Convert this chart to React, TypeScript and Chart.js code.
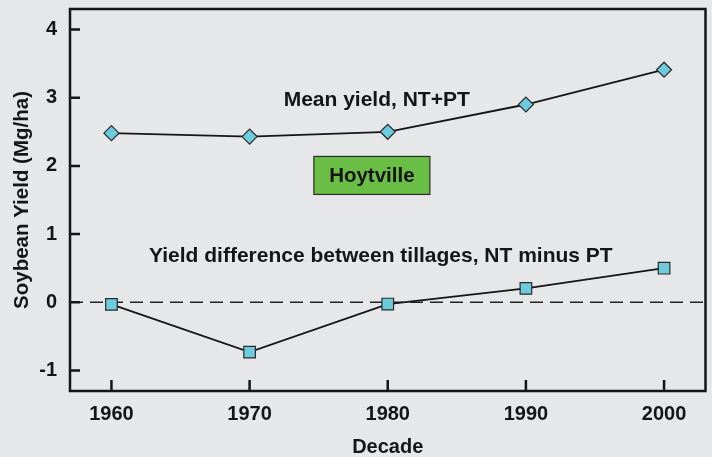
import React, { useEffect, useRef } from 'react';
import { Chart, registerables } from 'chart.js';

Chart.register(...registerables);

// ---- data ----
const decades = [1960, 1970, 1980, 1990, 2000];
const meanYield = [2.48, 2.43, 2.5, 2.9, 3.41];
const yieldDiff = [-0.03, -0.73, -0.025, 0.205, 0.5];
const yTickValues = [-1, 0, 1, 2, 3, 4];
const xRange = [1957, 2003];
const yRange = [-1.3, 4.3];

const meanLabel = { text: 'Mean yield, NT+PT', x: 1979.2, y: 2.96 };
const diffLabel = { text: 'Yield difference between tillages, NT minus PT', x: 1979.5, y: 0.68 };
const siteLabel = { text: 'Hoytville', x: 1978.85, y: 1.86 };

const BG = '#e6e7e9';
const INK = '#151515';
const FONT = "'Liberation Sans', Arial, sans-serif";
const MARKER = '#6ccbdc';

const decorPlugin = {
  id: 'decor',
  beforeDatasetsDraw(chart: any) {
    const { ctx, chartArea: a, scales } = chart;
    const y0 = scales.y.getPixelForValue(0);
    ctx.save();
    ctx.setLineDash([13, 7]);
    ctx.lineWidth = 1.5;
    ctx.strokeStyle = '#222';
    ctx.beginPath();
    ctx.moveTo(a.left, y0);
    ctx.lineTo(a.right, y0);
    ctx.stroke();
    ctx.restore();
  },
  afterDraw(chart: any) {
    const { ctx, chartArea: a, scales } = chart;
    const xs = scales.x;
    const ys = scales.y;
    ctx.save();
    // frame
    ctx.lineWidth = 2.5;
    ctx.strokeStyle = INK;
    ctx.strokeRect(a.left, a.top, a.right - a.left, a.bottom - a.top);
    // inward ticks
    ctx.lineWidth = 2.5;
    ctx.beginPath();
    for (const v of yTickValues) {
      const py = ys.getPixelForValue(v);
      ctx.moveTo(a.left, py);
      ctx.lineTo(a.left + 10, py);
    }
    for (const v of decades) {
      const px = xs.getPixelForValue(v);
      ctx.moveTo(px, a.bottom);
      ctx.lineTo(px, a.bottom - 11);
    }
    ctx.stroke();

    // text labels
    ctx.fillStyle = INK;
    ctx.font = `bold 21px ${FONT}`;
    ctx.textAlign = 'center';
    ctx.textBaseline = 'middle';
    ctx.fillText(meanLabel.text, xs.getPixelForValue(meanLabel.x), ys.getPixelForValue(meanLabel.y));
    ctx.fillText(diffLabel.text, xs.getPixelForValue(diffLabel.x), ys.getPixelForValue(diffLabel.y));

    // site box
    const cx = xs.getPixelForValue(siteLabel.x);
    const cy = ys.getPixelForValue(siteLabel.y);
    const bw = 116;
    const bh = 38;
    ctx.fillStyle = '#6abd45';
    ctx.fillRect(cx - bw / 2, cy - bh / 2, bw, bh);
    ctx.lineWidth = 1.2;
    ctx.strokeStyle = '#2a2a2a';
    ctx.strokeRect(cx - bw / 2, cy - bh / 2, bw, bh);
    ctx.fillStyle = INK;
    ctx.font = `bold 20.5px ${FONT}`;
    ctx.fillText(siteLabel.text, cx, cy + 1);
    ctx.restore();
  },
};

export default function App() {
  const ref = useRef<HTMLCanvasElement | null>(null);

  useEffect(() => {
    if (!ref.current) return;
    const tickFont = { family: FONT, size: 20, weight: 'bold' as const };
    const chart = new Chart(ref.current, {
      type: 'line',
      data: {
        datasets: [
          {
            label: 'Mean yield, NT+PT',
            data: decades.map((d, i) => ({ x: d, y: meanYield[i] })),
            borderColor: INK,
            borderWidth: 1.8,
            pointStyle: 'rectRot',
            pointRadius: 7.5,
            pointBackgroundColor: MARKER,
            pointBorderColor: '#2a2a2a',
            pointBorderWidth: 1.2,
            tension: 0,
          },
          {
            label: 'Yield difference',
            data: decades.map((d, i) => ({ x: d, y: yieldDiff[i] })),
            borderColor: INK,
            borderWidth: 1.8,
            pointStyle: 'rect',
            pointRadius: 8.2,
            pointBackgroundColor: MARKER,
            pointBorderColor: '#2a2a2a',
            pointBorderWidth: 1.2,
            tension: 0,
          },
        ],
      },
      options: {
        responsive: false,
        animation: false,
        layout: { autoPadding: false, padding: { left: 0, top: 9, right: 6.5, bottom: 0 } },
        plugins: { legend: { display: false }, tooltip: { enabled: false } },
        scales: {
          x: {
            type: 'linear',
            min: xRange[0],
            max: xRange[1],
            grid: { display: false, drawTicks: false },
            border: { display: false },
            afterBuildTicks: (s: any) => {
              s.ticks = decades.map((v) => ({ value: v }));
            },
            afterFit: (s: any) => {
              s.height = 66;
              s.paddingLeft = 0;
              s.paddingRight = 0;
            },
            ticks: {
              font: tickFont,
              color: INK,
              padding: 11,
              maxRotation: 0,
              autoSkip: false,
              callback: (v: any) => String(v),
            },
            title: {
              display: true,
              text: 'Decade',
              color: INK,
              font: { family: FONT, size: 20, weight: 'bold', lineHeight: 1 },
              padding: { top: 0, bottom: 0 },
            },
          },
          y: {
            type: 'linear',
            min: yRange[0],
            max: yRange[1],
            grid: { display: false, drawTicks: false },
            border: { display: false },
            afterBuildTicks: (s: any) => {
              s.ticks = yTickValues.map((v) => ({ value: v }));
            },
            afterFit: (s: any) => {
              s.width = 70;
              s.paddingTop = 0;
              s.paddingBottom = 0;
            },
            ticks: {
              font: tickFont,
              color: INK,
              padding: 13,
              autoSkip: false,
              callback: (v: any) => String(v),
            },
            title: {
              display: true,
              text: 'Soybean Yield (Mg/ha)',
              color: INK,
              font: { family: FONT, size: 20.5, weight: 'bold', lineHeight: 1 },
              padding: { top: 12, bottom: 0 },
            },
          },
        },
      },
      plugins: [decorPlugin],
    });
    return () => chart.destroy();
  }, []);

  return (
    <div style={{ position: 'fixed', left: 0, top: 0, width: 712, height: 457, background: BG }}>
      <canvas ref={ref} width={712} height={457} style={{ display: 'block' }} />
    </div>
  );
}
